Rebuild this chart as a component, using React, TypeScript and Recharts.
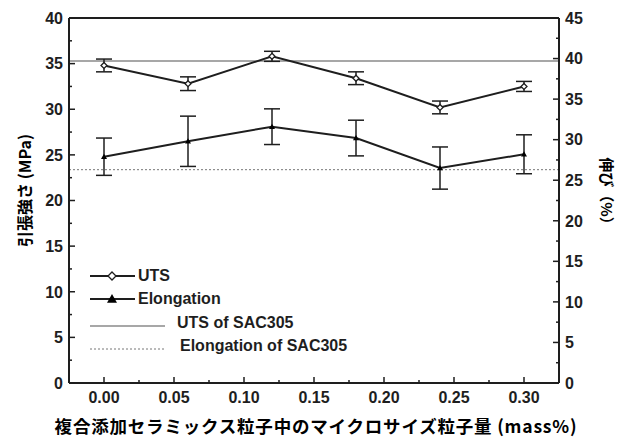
import {
  ComposedChart, Line, XAxis, YAxis, ErrorBar, ReferenceLine, Legend,
} from "recharts";

// x: micro-size particle content (mass%)
const massPct = [0, 0.06, 0.12, 0.18, 0.24, 0.3];
// UTS (MPa), left axis
const uts = [34.8, 32.8, 35.8, 33.4, 30.2, 32.5];
const utsErr = [0.7, 0.75, 0.55, 0.7, 0.7, 0.55];
// elongation (%), right axis
const elong = [27.9, 29.8, 31.6, 30.2, 26.5, 28.2];
const elongErr = [2.3, 3.1, 2.2, 2.2, 2.6, 2.4];

// SAC305 reference levels
const utsSAC305 = 35.3;
const elongSAC305 = 26.3;

const xTicks = [0, 0.025, 0.05, 0.075, 0.1, 0.125, 0.15, 0.175, 0.2, 0.225, 0.25, 0.275, 0.3];
const leftTicks = [0, 2.5, 5, 7.5, 10, 12.5, 15, 17.5, 20, 22.5, 25, 27.5, 30, 32.5, 35, 37.5, 40];
const rightTicks = [0, 2.5, 5, 7.5, 10, 12.5, 15, 17.5, 20, 22.5, 25, 27.5, 30, 32.5, 35, 37.5, 40, 42.5, 45];

const data = massPct.map((m, i) => ({
  m, uts: uts[i], utsErr: utsErr[i], elong: elong[i], elongErr: elongErr[i],
}));

const INK = "#1e1e1e";
const FONT = "'Liberation Sans', Arial, sans-serif";
const JP = "'Noto Sans CJK JP', sans-serif";

const isMajor = (v: number, step: number) => Math.abs(v / step - Math.round(v / step)) < 1e-6;

function LeftTick({ x, y, payload }: any) {
  const major = isMajor(payload.value, 5);
  return (
    <g>
      <line x1={x} x2={x + (major ? 6 : 3)} y1={y} y2={y} stroke={INK} strokeWidth={1.5} />
      {major && (
        <text x={x - 6} y={y} dy="0.36em" textAnchor="end" fontSize={16} fontWeight={700} fontFamily={FONT} fill={INK}>
          {payload.value}
        </text>
      )}
    </g>
  );
}

function RightTick({ x, y, payload }: any) {
  const major = isMajor(payload.value, 5);
  return (
    <g>
      <line x1={x} x2={x - (major ? 6 : 3)} y1={y} y2={y} stroke={INK} strokeWidth={1.5} />
      {major && (
        <text x={x + 6} y={y} dy="0.36em" textAnchor="start" fontSize={16} fontWeight={700} fontFamily={FONT} fill={INK}>
          {payload.value}
        </text>
      )}
    </g>
  );
}

function BottomTick({ x, y, payload }: any) {
  const major = isMajor(payload.value, 0.05);
  return (
    <g>
      <line x1={x} x2={x} y1={y} y2={y - (major ? 6 : 3)} stroke={INK} strokeWidth={1.5} />
      {major && (
        <text x={x} y={y + 20} textAnchor="middle" fontSize={16} fontWeight={700} fontFamily={FONT} fill={INK}>
          {payload.value.toFixed(2)}
        </text>
      )}
    </g>
  );
}

function Diamond({ cx, cy, r = 5.5 }: any) {
  if (cx == null || cy == null) return null;
  return (
    <path d={`M${cx},${cy - r}L${cx + r},${cy}L${cx},${cy + r}L${cx - r},${cy}Z`}
      fill="#fff" stroke={INK} strokeWidth={1.3} />
  );
}

function Triangle({ cx, cy, r = 6 }: any) {
  if (cx == null || cy == null) return null;
  return (
    <path d={`M${cx},${cy - r}L${cx + r},${cy + r * 0.75}L${cx - r},${cy + r * 0.75}Z`} fill="#000" />
  );
}

const leftTitle = ({ viewBox }: any) => {
  const cx = viewBox.x + 25;
  const cy = viewBox.y + viewBox.height / 2 - 10;
  return (
    <text x={cx} y={cy} transform={`rotate(-90 ${cx} ${cy})`} textAnchor="middle" dy="0.36em"
      fontSize={16} fontWeight={700} fontFamily={JP} fill="#000">
      引張強さ (MPa)
    </text>
  );
};

const rightTitle = ({ viewBox }: any) => {
  const cx = viewBox.x + 47;
  const cy = viewBox.y + viewBox.height / 2 - 6;
  return (
    <text x={cx} y={cy} transform={`rotate(90 ${cx} ${cy})`} textAnchor="middle" dy="0.36em"
      fontSize={15} fontWeight={700} fontFamily={JP} fill="#000">
      伸び（%）
    </text>
  );
};

const bottomTitle = ({ viewBox }: any) => {
  const cx = viewBox.x + viewBox.width / 2 + 2;
  return (
    <text x={cx} y={viewBox.y + 50} textAnchor="middle" fontSize={17.5} fontWeight={700}
      fontFamily={JP} letterSpacing={0.8} fill="#000">
      複合添加セラミックス粒子中のマイクロサイズ粒子量 (mass%)
    </text>
  );
};

function LegendBox() {
  const txt = { fontSize: 16, fontWeight: 700, fontFamily: FONT, color: INK, lineHeight: "20px", whiteSpace: "nowrap" as const };
  const row = (top: number) => ({ position: "absolute" as const, top, left: 0, height: 20, display: "flex", alignItems: "center" });
  return (
    <div style={{ position: "relative", width: 320, height: 100 }}>
      <div style={row(3)}>
        <svg width={48} height={20}>
          <line x1={2} x2={47} y1={10} y2={10} stroke={INK} strokeWidth={2} />
          <Diamond cx={24} cy={10} r={4} />
        </svg>
        <span style={{ ...txt, marginLeft: 2 }}>UTS</span>
      </div>
      <div style={row(26)}>
        <svg width={48} height={20}>
          <line x1={2} x2={47} y1={10} y2={10} stroke={INK} strokeWidth={2} />
          <Triangle cx={24} cy={10} r={5} />
        </svg>
        <span style={{ ...txt, marginLeft: 2 }}>Elongation</span>
      </div>
      <div style={row(50)}>
        <svg width={80} height={20}>
          <line x1={2} x2={77} y1={13} y2={13} stroke="#8a8a8a" strokeWidth={1.5} />
        </svg>
        <span style={{ ...txt, marginLeft: 9 }}>UTS of SAC305</span>
      </div>
      <div style={row(73)}>
        <svg width={80} height={20}>
          <line x1={2} x2={77} y1={13} y2={13} stroke="#777" strokeWidth={1} strokeDasharray="2 2" />
        </svg>
        <span style={{ ...txt, marginLeft: 12 }}>Elongation of SAC305</span>
      </div>
    </div>
  );
}

export default function App() {
  return (
    <div style={{ position: "absolute", left: 0, top: 0, background: "#fff" }}>
      <ComposedChart width={628} height={439} data={data} margin={{ top: 18, right: 0, bottom: 0, left: 0 }}>
        <XAxis dataKey="m" type="number" domain={[-0.025, 0.325]} ticks={xTicks} interval={0}
          tick={<BottomTick />} tickLine={false} tickSize={0} tickMargin={0} height={56}
          axisLine={{ stroke: INK, strokeWidth: 2 }} label={{ content: bottomTitle }} />
        <YAxis yAxisId="left" domain={[0, 40]} ticks={leftTicks} interval={0} width={69}
          tick={<LeftTick />} tickLine={false} tickSize={0} tickMargin={0}
          axisLine={{ stroke: INK, strokeWidth: 2 }} label={{ content: leftTitle }} />
        <YAxis yAxisId="right" orientation="right" domain={[0, 45]} ticks={rightTicks} interval={0} width={69}
          tick={<RightTick />} tickLine={false} tickSize={0} tickMargin={0}
          axisLine={{ stroke: INK, strokeWidth: 2 }} label={{ content: rightTitle }} />
        <ReferenceLine yAxisId="left" y={40} stroke={INK} strokeWidth={2} />
        <ReferenceLine yAxisId="left" y={utsSAC305} stroke="#8a8a8a" strokeWidth={1.5} />
        <ReferenceLine yAxisId="right" y={elongSAC305} stroke="#777" strokeWidth={1} strokeDasharray="2 2" />
        <Legend layout="horizontal" verticalAlign="middle" align="center" content={<LegendBox />}
          wrapperStyle={{ position: "absolute", left: 88, top: 263, width: 320 }} />
        <Line yAxisId="left" dataKey="uts" name="UTS" stroke={INK} strokeWidth={2} dot={<Diamond />}
          activeDot={false} isAnimationActive={false}>
          <ErrorBar dataKey="utsErr" direction="y" width={8} stroke={INK} strokeWidth={1.5} />
        </Line>
        <Line yAxisId="right" dataKey="elong" name="Elongation" stroke={INK} strokeWidth={2} dot={<Triangle />}
          activeDot={false} isAnimationActive={false}>
          <ErrorBar dataKey="elongErr" direction="y" width={8} stroke={INK} strokeWidth={1.5} />
        </Line>
      </ComposedChart>
    </div>
  );
}
